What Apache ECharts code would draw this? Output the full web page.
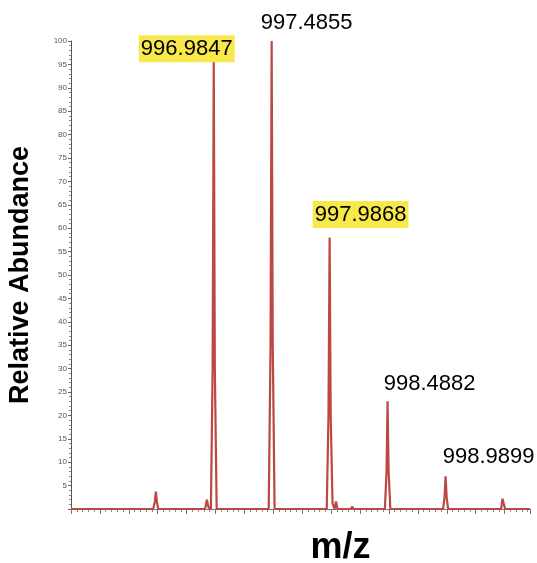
<!DOCTYPE html>
<html>
<head>
<meta charset="utf-8">
<script src="https://cdn.jsdelivr.net/npm/echarts@6/dist/echarts.min.js"></script>
<style>
html,body{margin:0;padding:0;background:#fff;}
#chart{width:537px;height:563px;}
</style>
</head>
<body>
<div id="chart"></div>
<script>
// Spectrum profile (m/z, relative abundance)
var mzValues = [
  995.75, 996.46, 996.475, 996.484, 996.493, 996.505,
  996.70, 996.716, 996.73,
  996.91, 996.925, 996.94, 996.96, 996.975, 996.9847, 996.994, 997.01,
  997.46, 997.476, 997.4855, 997.495, 997.511,
  997.962, 997.977, 997.9868, 997.996, 998.012, 998.03, 998.042, 998.055,
  998.17, 998.181, 998.195,
  998.465, 998.479, 998.4882, 998.497, 998.512,
  998.968, 998.981, 998.9899, 998.999, 999.012,
  999.47, 999.482, 999.492, 999.505, 999.72
];
var abundanceValues = [
  0, 0, 1.5, 3.7, 1.5, 0,
  0, 0.4, 0,
  0, 2, 0.3, 0, 30, 96, 30, 0,
  0, 35, 100, 35, 0,
  0, 20, 58, 20, 1.2, 0, 1.6, 0,
  0, 0.5, 0,
  0, 8, 23, 8, 0,
  0, 2.5, 7, 2.5, 0,
  0, 2.2, 1.2, 0, 0
];
// Labelled peaks
var peakMz = [996.9847, 997.4855, 997.9868, 998.4882, 998.9899];
var peakAbundance = [96, 100, 58, 23, 7];
var peakLabels = ['996.9847', '997.4855', '997.9868', '998.4882', '998.9899'];
var peakHighlighted = [true, false, true, false, false];
// Axis tick values
var yTickValues = [5,10,15,20,25,30,35,40,45,50,55,60,65,70,75,80,85,90,95,100];

var labelOffsets = [[-27, -11], [35, -18], [31, -23], [42, -17], [43, -19]];

var spectrum = mzValues.map(function (m, i) { return [m, abundanceValues[i]]; });
var peaks = peakMz.map(function (m, i) {
  var lab = {
    show: true,
    position: 'inside',
    formatter: peakLabels[i],
    offset: labelOffsets[i],
    fontSize: 22,
    fontFamily: 'Liberation Sans, Arial, sans-serif',
    color: '#000',
    opacity: 1
  };
  if (peakHighlighted[i]) {
    lab.backgroundColor = '#f7e84b';
    lab.padding = [3, 2, 2, 2];
  }
  return { value: [m, peakAbundance[i]], label: lab };
});

var chart = echarts.init(document.getElementById('chart'), null, { renderer: 'canvas' });
chart.setOption({
  animation: false,
  backgroundColor: '#fff',
  grid: { left: 71, right: 7, top: 41, bottom: 54, containLabel: false, outerBoundsMode: 'none' },
  xAxis: {
    type: 'value',
    min: 995.75,
    max: 999.72,
    interval: 0.25,
    name: 'm/z',
    nameLocation: 'middle',
    nameGap: 21,
    nameTextStyle: { fontSize: 36, fontWeight: 'bold', color: '#000', fontFamily: 'Liberation Sans, Arial, sans-serif', padding: [0, 0, 0, 80] },
    axisLine: { show: true, lineStyle: { color: '#777', width: 1 } },
    axisTick: { show: true, length: 5, lineStyle: { color: '#777' } },
    minorTick: { show: true, splitNumber: 5, length: 3, lineStyle: { color: '#888' } },
    axisLabel: { show: false },
    splitLine: { show: false }
  },
  yAxis: {
    type: 'value',
    min: 0,
    max: 100,
    interval: 5,
    name: 'Relative Abundance',
    nameLocation: 'middle',
    nameGap: 37,
    nameTextStyle: { fontSize: 27, fontWeight: 'bold', color: '#000', fontFamily: 'Liberation Sans, Arial, sans-serif' },
    axisLine: { show: true, lineStyle: { color: '#555', width: 1 } },
    axisTick: { show: true, length: 3, lineStyle: { color: '#666' } },
    minorTick: { show: true, splitNumber: 5, length: 2, lineStyle: { color: '#888' } },
    axisLabel: {
      show: true, fontSize: 8, color: '#555', margin: 4,
      fontFamily: 'Liberation Sans, Arial, sans-serif',
      formatter: function (v) { return yTickValues.indexOf(v) >= 0 ? String(v) : ''; }
    },
    splitLine: { show: false }
  },
  series: [
    {
      type: 'line',
      data: spectrum,
      symbol: 'none',
      lineStyle: { color: '#bd4741', width: 2.2 },
      z: 3
    },
    {
      type: 'scatter',
      data: peaks,
      symbolSize: 0,
      itemStyle: { opacity: 1 },
      z: 4,
      silent: true
    }
  ]
});
</script>
</body>
</html>
